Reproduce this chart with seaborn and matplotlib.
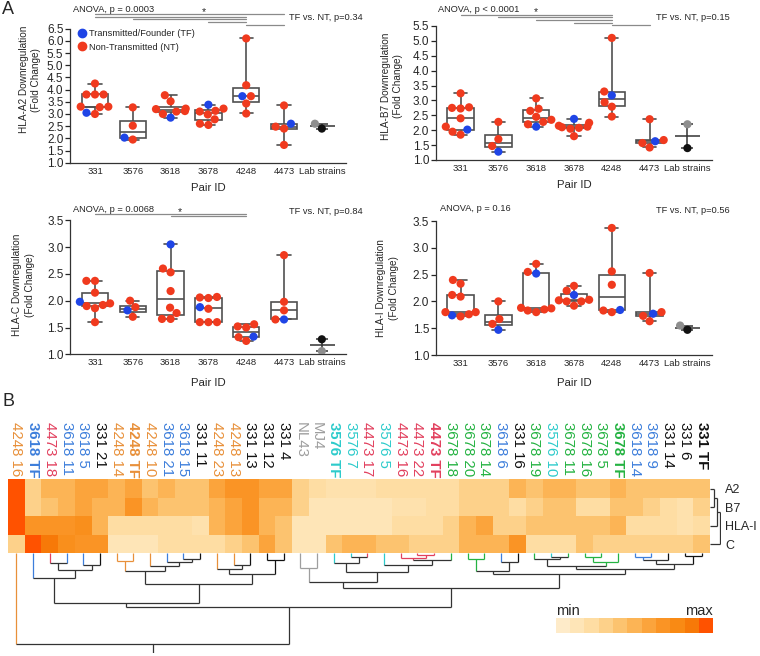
# HLA downregulation by TF / NT Env pairs: box plots (A) and clustered heatmap (B)
import numpy as np
import pandas as pd
import matplotlib
matplotlib.use('Agg')
import matplotlib.pyplot as plt
from matplotlib.colors import LinearSegmentedColormap
from matplotlib.lines import Line2D
from matplotlib.transforms import blended_transform_factory
import seaborn as sns

# ---------------- panel A data ----------------
pairs = ['331', '3576', '3618', '3678', '4248', '4473', 'Lab strains']
lab_names = ['MJ4', 'NL43']

a2_tf = [3.05, 2.03, 2.85, 3.38, 3.73, 2.6]
a2_nt = [[4.25, 3.8, 3.8, 3.8, 3.3, 3.3, 3.28, 3.0],
         [3.27, 2.52, 1.95],
         [3.77, 3.52, 3.22, 3.2, 3.12, 3.1, 3.0],
         [3.22, 3.13, 3.1, 2.98, 2.78, 2.6, 2.55],
         [6.1, 4.18, 3.73, 3.43, 3.02],
         [3.35, 2.48, 2.4, 1.73]]
a2_lab = [2.4, 2.6]

b7_tf = [2.02, 1.28, 2.12, 2.38, 3.17, 1.63]
b7_nt = [[3.24, 2.77, 2.75, 2.73, 2.4, 2.12, 1.95, 1.85],
         [2.28, 1.7, 1.47],
         [3.07, 2.72, 2.65, 2.45, 2.35, 2.28, 2.2],
         [2.25, 2.15, 2.12, 2.1, 2.08, 2.05, 1.8],
         [5.1, 3.3, 2.94, 2.79, 2.46],
         [2.37, 1.67, 1.57, 1.42]]
b7_lab = [1.4, 2.2]

c_tf = [1.98, 1.82, 3.05, 1.88, 1.33, 1.65]
c_nt = [[2.37, 2.37, 2.15, 1.95, 1.92, 1.9, 1.86, 1.6],
        [2.0, 1.88, 1.7],
        [2.6, 2.53, 2.18, 1.87, 1.77, 1.66, 1.66],
        [2.07, 2.06, 2.05, 1.85, 1.6, 1.6, 1.6],
        [1.56, 1.52, 1.5, 1.32, 1.25],
        [2.85, 1.98, 1.82, 1.65]]
c_lab = [1.28, 1.06]

i_tf = [1.74, 1.47, 2.52, 2.12, 1.84, 1.77]
i_nt = [[2.4, 2.33, 2.12, 2.09, 1.8, 1.8, 1.76, 1.72],
        [2.0, 1.67, 1.58],
        [2.7, 2.55, 1.88, 1.87, 1.85, 1.83, 1.8],
        [2.29, 2.2, 2.03, 2.02, 2.0, 2.0, 1.92],
        [3.37, 2.56, 2.31, 1.83, 1.8],
        [2.53, 1.8, 1.73, 1.63]]
i_lab = [1.47, 1.55]

# multiple comparison bars (pair index, pair index)
a2_comps = [(0, 5), (0, 4), (1, 4), (3, 4), (4, 5)]
b7_comps = [(0, 4), (1, 4), (2, 4), (3, 4), (4, 5)]
c_comps = [(0, 4), (2, 4)]

# ---------------- panel B data ----------------
col_labels = ['4248 16', '3618 TF', '4473 18', '3618 11', '3618 5', '331 21', '4248 14',
              '4248 TF', '4248 10', '3618 21', '3618 15', '331 11', '4248 23', '4248 13',
              '331 13', '331 12', '331 4', 'NL43', 'MJ4', '3576 TF', '3576 7', '4473 17',
              '3576 5', '4473 16', '4473 22', '4473 TF', '3678 18', '3678 20', '3678 14',
              '3618 6', '331 16', '3678 19', '3576 10', '3678 11', '3678 16', '3678 5',
              '3678 TF', '3618 14', '3618 9', '331 14', '331 6', '331 TF']
row_labels = ['A2', 'B7', 'HLA-I', 'C']
# colour level 0 (min) .. 10 (max)
hm_a2 = [10, 3, 5, 5, 6, 6, 5, 6, 4, 5, 4, 4, 6, 7, 7, 6, 6, 3, 2, 1.5, 1.5, 1.5, 2, 2, 2, 2, 2,
         3, 3, 3, 5, 4, 5, 5, 4, 4, 5, 4, 4, 4, 4, 4]
hm_b7 = [10, 3, 4, 5, 6, 5, 5, 7, 5, 4, 4, 4, 5, 6, 7, 5, 5, 3, 1, 1, 1, 1, 1, 1.5, 1.5, 2, 2,
         3, 3, 3, 2, 3, 4, 4, 2, 2, 4, 4, 3, 2, 1.5, 3]
hm_hlai = [10, 7, 7, 7, 7.5, 5, 2, 2, 2, 2, 2, 1.5, 5, 6, 7, 5, 4, 1, 1, 1, 1, 1, 1, 2, 2, 2, 3,
           5, 6, 3, 3, 4, 4, 4, 4, 4, 5, 2, 2, 2, 1.5, 2]
hm_c = [3, 10, 9, 7.5, 7, 7, 1, 1, 1, 2, 2, 2, 2, 3, 4, 6, 4, 1, 1, 4, 5, 5, 4, 4, 3, 3, 3,
        5, 5, 5, 7, 2, 2, 2, 4, 3, 3, 3, 3, 3, 3, 4]
levels = list(range(11))

# column tree: (merge height, left, right); leaves are column indices
col_tree = (91, 0,
            (53.7,
             (49.3,
              (24.7, 1, (17, (9.3, 2, 3), (12, 4, 5))),
              (30.3,
               (17.7, (7.7, 6, 7), (12.7, 8, (8.3, 9, (5.3, 10, 11)))),
               (20.3, (15.3, 12, (12, 13, 14)), (7, 15, 16)))),
             (34.7,
              (28.7,
               (14.3, 17, 18),
               (18.7,
                (9.3, 19, (3.7, 20, 21)),
                (12, 22, (7, (5, 23, (2, 24, 25)), 26)))),
              (21,
               (17.7, (5.3, 27, 28), (8.7, 29, 30)),
               (15.3,
                (12.7, (5.3, 31, (3.7, 32, 33)), (8.7, (3.7, 34, 35), 36)),
                (10.3, (6.3, (3.7, 37, 38), 39), (3, 40, 41)))))))
row_tree = (9.5, (7, (4, 0, 1), 2), 3)

group_colors = {'4248': '#E8903A', '3618': '#3D7EDB', '4473': '#E2405E', '331': '#111111',
                'NL43': '#9E9E9E', 'MJ4': '#9E9E9E', '3576': '#2DCBCB', '3678': '#25B342'}
kind_colors = {'TF': '#1F45E6', 'NT': '#F03A1E', 'MJ4': '#111111', 'NL43': '#8E8E8E'}
heat_colors = ['#FEEBC9', '#FEE5B7', '#FEDDA3', '#FDD189', '#FCC36F', '#FCB456',
               '#FBA43C', '#FA9425', '#F98A14', '#F77A08', '#FF5200']
tree_dark = '#333333'

W, H = 760, 656


def fx(x):
    return x / W


def fy(y):
    return 1 - y / H


def long_frame(tf, nt, lab):
    rows = []
    for p, t, n in zip(pairs, tf, nt):
        rows.append((p, t, 'TF'))
        rows += [(p, v, 'NT') for v in n]
    rows += [('Lab strains', v, k) for v, k in zip(lab, lab_names)]
    return pd.DataFrame(rows, columns=['pair', 'value', 'kind'])


def box_panel(ax, tf, nt, lab, ylabel, ymax, ylab_xy, comps=(), comp_y=()):
    df = long_frame(tf, nt, lab)
    sns.boxplot(data=df[df.kind.isin(['TF', 'NT'])], x='pair', y='value', order=pairs,
                color='white', linecolor='#505050', linewidth=1.2, width=0.7,
                whis=(0, 100), showfliers=False, ax=ax)
    lv = df.loc[df.pair == 'Lab strains', 'value']
    m = lv.mean()
    ax.errorbar([6], [m], yerr=[[m - lv.min()], [lv.max() - m]], fmt='_', ms=18, mew=1.1,
                color='#333333', ecolor='#333333', elinewidth=1.1, capsize=4, zorder=2)
    sns.swarmplot(data=df, x='pair', y='value', order=pairs, hue='kind',
                  hue_order=['TF', 'NT', 'MJ4', 'NL43'], palette=kind_colors, size=5.9,
                  linewidth=0, legend=False, ax=ax, zorder=3)
    ax.set_xlim(-0.65, 6.65)
    ax.set_ylim(1.0, ymax)
    ax.set_yticks(np.arange(1.0, ymax + 0.01, 0.5))
    ax.set_yticklabels([f'{v:.1f}' for v in np.arange(1.0, ymax + 0.01, 0.5)], fontsize=8.5)
    ax.tick_params(axis='y', length=3.5, width=0.9, pad=1.5)
    ax.tick_params(axis='x', length=0, pad=3, labelsize=6.8)
    ax.set_ylabel(ylabel, fontsize=7.2, linespacing=1.3)
    ax.yaxis.set_label_coords(*ylab_xy)
    ax.set_xlabel('Pair ID', fontsize=8.2)
    for s in ['left', 'bottom']:
        ax.spines[s].set_linewidth(0.9)
        ax.spines[s].set_color('#333333')
    sns.despine(ax=ax)
    tr = blended_transform_factory(ax.transData, ax.transAxes)
    for (i, j), yy in zip(comps, comp_y):
        ax.plot([i, j], [yy, yy], color='#8A8A8A', lw=0.9, transform=tr, clip_on=False)


fig = plt.figure(figsize=(W / 100, H / 100), dpi=100)
sns.set_style('ticks')
plt.rcParams['font.family'] = ['Liberation Sans', 'DejaVu Sans']

left_x, right_x, ax_w = fx(70.4), fx(436), fx(276)
ax1 = fig.add_axes([left_x, fy(162.7), ax_w, 134 / H])
ax2 = fig.add_axes([right_x, fy(160), ax_w, 134 / H])
ax3 = fig.add_axes([left_x, fy(354.3), ax_w, 134 / H])
ax4 = fig.add_axes([right_x, fy(355), ax_w, 134 / H])

box_panel(ax1, a2_tf, a2_nt, a2_lab, 'HLA-A2 Downregulation\n(Fold Change)', 6.5,
          (-0.105, 0.62), a2_comps, [1.107, 1.09, 1.072, 1.048, 1.027])
box_panel(ax2, b7_tf, b7_nt, b7_lab, 'HLA-B7 Downregulation\n(Fold Change)', 5.5,
          (-0.118, 0.55), b7_comps, [1.082, 1.065, 1.045, 1.02, 1.007])
box_panel(ax3, c_tf, c_nt, c_lab, 'HLA-C Downregulation\n(Fold Change)', 3.5,
          (-0.13, 0.52), c_comps, [1.048, 1.03])
box_panel(ax4, i_tf, i_nt, i_lab, 'HLA-I Downregulation\n(Fold Change)', 3.5,
          (-0.135, 0.5))
for ax, yl in [(ax1, -0.15), (ax2, -0.15), (ax3, -0.175), (ax4, -0.175)]:
    ax.xaxis.set_label_coords(0.5, yl)

handles = [Line2D([], [], marker='o', ls='', ms=6, color=kind_colors['TF']),
           Line2D([], [], marker='o', ls='', ms=6, color=kind_colors['NT'])]
ax1.legend(handles, ['Transmitted/Founder (TF)', 'Non-Transmitted (NT)'], loc='upper left',
           bbox_to_anchor=(0.0, 1.04), frameon=False, fontsize=6.7, handletextpad=0.2,
           borderaxespad=0.2, labelspacing=0.5, handlelength=1.2)

# statistics text
stat_kw = dict(fontsize=6.7, va='center')
fig.text(fx(73), fy(10), 'ANOVA, p = 0.0003', ha='left', **stat_kw)
fig.text(fx(363), fy(17), 'TF vs. NT, p=0.34', ha='right', **stat_kw)
fig.text(fx(438), fy(9.3), 'ANOVA, p < 0.0001', ha='left', **stat_kw)
fig.text(fx(730), fy(17.3), 'TF vs. NT, p=0.15', ha='right', **stat_kw)
fig.text(fx(72.7), fy(209.3), 'ANOVA, p = 0.0068', ha='left', **stat_kw)
fig.text(fx(362.7), fy(211.7), 'TF vs. NT, p=0.84', ha='right', **stat_kw)
fig.text(fx(440), fy(208.3), 'ANOVA, p = 0.16', ha='left', **stat_kw)
fig.text(fx(730), fy(210.7), 'TF vs. NT, p=0.56', ha='right', **stat_kw)
for sx, sy in [(204, 12.5), (535.7, 12), (180, 212)]:
    fig.text(fx(sx), fy(sy), '*', ha='center', va='center', fontsize=7.5)

fig.text(fx(2), fy(1), 'A', fontsize=13, va='top')
fig.text(fx(2), fy(393), 'B', fontsize=13, va='top')

# ---------------- heatmap ----------------
cmap = LinearSegmentedColormap.from_list('heat', heat_colors)
hm = pd.DataFrame([hm_a2, hm_b7, hm_hlai, hm_c], index=row_labels, columns=col_labels)
ax_hm = fig.add_axes([fx(8), fy(553.3), fx(702), 74 / H])
sns.heatmap(hm, cmap=cmap, vmin=0, vmax=10, cbar=False, xticklabels=False,
            yticklabels=False, ax=ax_hm)

leaf_color = [group_colors[lab.split()[0]] for lab in col_labels]
tr = blended_transform_factory(ax_hm.transData, fig.transFigure)
for i, lab in enumerate(col_labels):
    ax_hm.text(i + 0.5, fy(422), lab, transform=tr, rotation=270, ha='center', va='top',
               fontsize=10.8, color=leaf_color[i],
               fontweight='bold' if lab.endswith('TF') else 'normal')


def draw_tree(ax, node, colors, vertical=True):
    if isinstance(node, int):
        return node + 0.5, 0.0, colors[node]
    h, a, b = node
    pa, ha, ca = draw_tree(ax, a, colors, vertical)
    pb, hb, cb = draw_tree(ax, b, colors, vertical)
    c = ca if ca == cb else tree_dark
    for p, p2, h0, h1, cc in [(pa, pa, ha, h, ca), (pb, pb, hb, h, cb), (pa, pb, h, h, c)]:
        if vertical:
            ax.plot([p, p2], [h0, h1], color=cc, lw=0.9, solid_capstyle='butt')
        else:
            ax.plot([h0, h1], [p, p2], color=cc, lw=0.9, solid_capstyle='butt')
    return (pa + pb) / 2, h, c


ax_den = fig.add_axes([fx(8), fy(653.3), fx(702), 100 / H])
root_x, root_h, _ = draw_tree(ax_den, col_tree, leaf_color)
ax_den.plot([root_x, root_x], [root_h, 100], color=tree_dark, lw=0.9)
ax_den.set_xlim(0, len(col_labels))
ax_den.set_ylim(100, 0)
ax_den.axis('off')

ax_row = fig.add_axes([fx(710), fy(553.3), fx(11), 74 / H])
draw_tree(ax_row, row_tree, [tree_dark] * 4, vertical=False)
ax_row.set_xlim(0, 11)
ax_row.set_ylim(4, 0)
ax_row.set_xticks([])
ax_row.set_yticks([0.5, 1.5, 2.5, 3.5])
ax_row.set_yticklabels(row_labels, fontsize=9)
ax_row.yaxis.tick_right()
ax_row.tick_params(axis='y', length=0, pad=3)
for s in ax_row.spines.values():
    s.set_visible(False)
ax_row.patch.set_alpha(0)

# colour key
ax_key = fig.add_axes([fx(555.7), fy(633.3), fx(157.6), 15 / H])
sns.heatmap([levels], cmap=cmap, vmin=0, vmax=10, cbar=False, xticklabels=False,
            yticklabels=False, ax=ax_key)
fig.text(fx(556), fy(615), 'min', fontsize=10.5, ha='left', va='baseline')
fig.text(fx(713), fy(615), 'max', fontsize=10.5, ha='right', va='baseline')

fig.savefig('out.png', dpi=100)
